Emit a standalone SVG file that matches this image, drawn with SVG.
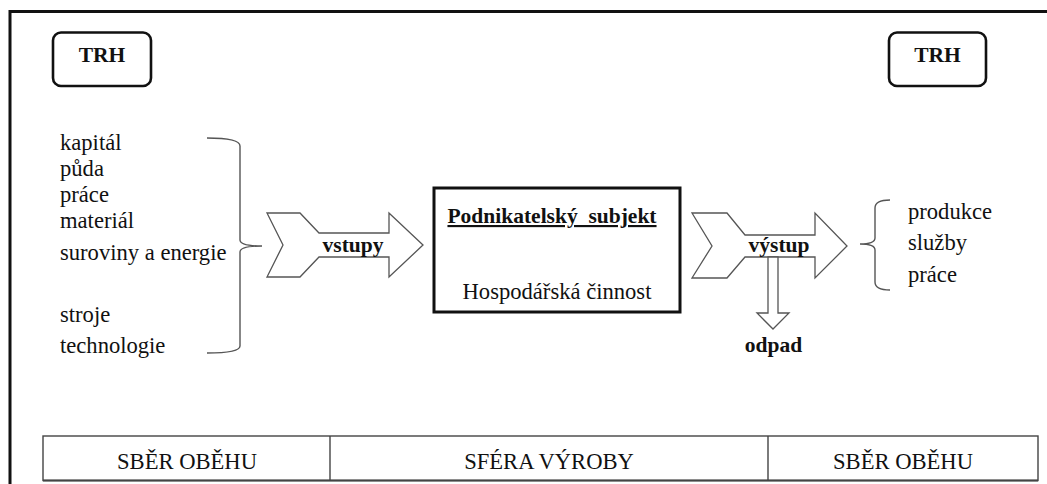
<svg xmlns="http://www.w3.org/2000/svg" width="1047" height="484" viewBox="0 0 1047 484" font-family="'Liberation Serif', Tinos, 'Times New Roman', serif">
<style>
text{font-family:"Liberation Serif",Tinos,"Times New Roman",serif;fill:#111;}
.b{font-weight:bold;font-size:21.5px;}
.r{font-size:22.6px;}
.ctr{text-anchor:middle;}
.trh{fill:#fff;stroke:#111;stroke-width:2.6;}
.arr{fill:#fff;stroke:#555;stroke-width:1.3;stroke-linejoin:miter;}
.br{fill:none;stroke:#555;stroke-width:1.4;}
.cell{fill:#fff;stroke:#444;stroke-width:1.4;}
</style>
<rect width="1047" height="484" fill="#fff"/>
<path d="M10,484 V11.5 H1047" fill="none" stroke="#111" stroke-width="3"/>

<g id="trh-left">
<rect class="trh" x="53" y="32.5" width="98" height="53.5" rx="8"/>
<text class="b ctr" x="102" y="62">TRH</text>
</g>
<g id="trh-right">
<rect class="trh" x="889" y="32.5" width="97" height="53.5" rx="8"/>
<text class="b ctr" x="937.5" y="62">TRH</text>
</g>

<g id="inputs">
<text class="r" x="60" y="150">kapitál</text>
<text class="r" x="60" y="176">půda</text>
<text class="r" x="60" y="202">práce</text>
<text class="r" x="60" y="228">materiál</text>
<text class="r" x="60" y="260">suroviny a energie</text>
<text class="r" x="60" y="322">stroje</text>
<text class="r" x="60" y="353">technologie</text>
</g>

<g id="outputs">
<text class="r" x="908" y="219" font-size="23.5">produkce</text>
<text class="r" x="908" y="250" font-size="23.5">služby</text>
<text class="r" x="908" y="282" font-size="23.5">práce</text>
</g>

<g id="subject">
<rect x="434" y="188" width="246" height="124" fill="#fff" stroke="#111" stroke-width="3"/>
<text class="b ctr" x="552" y="223" font-size="21.8" text-decoration="underline" xml:space="preserve">Podnikatelský  subjekt</text>
<text class="r ctr" x="557" y="299">Hospodářská činnost</text>
</g>

<g id="table">
<rect class="cell" x="43" y="436" width="995" height="44.5"/>
<line x1="43" y1="480.5" x2="1038" y2="480.5" stroke="#444" stroke-width="2"/>
<line x1="330" y1="436" x2="330" y2="480.5" stroke="#444" stroke-width="1.4"/>
<line x1="768" y1="436" x2="768" y2="480.5" stroke="#444" stroke-width="1.4"/>
<text class="r ctr" x="187" y="469">SBĚR OBĚHU</text>
<text class="r ctr" x="549" y="469">SFÉRA VÝROBY</text>
<text class="r ctr" x="903" y="469">SBĚR OBĚHU</text>
</g>

<g id="connectors">
<path class="br" d="M207,138 Q240,138 240,146 V240 Q240,246 262,246 Q240,246 240,252 V346 Q240,353 207,353"/>
<path class="br" d="M890,200 Q875,200 875,208 V238 Q875,244 860,244 Q875,244 875,250 V282 Q875,290 890,290"/>
<g id="vstupy">
<polygon class="arr" points="267,213 300,213 319,233 389,233 389,213 423,245 389,277 389,257 319,257 300,277 267,277 283,245"/>
<text class="b ctr" x="353" y="252">vstupy</text>
</g>
<g id="vystup">
<polygon class="arr" points="692,213 727,213 745,235 815,235 815,213 847,246 815,278 815,257 745,257 727,278 692,278 712,246"/>
<polygon class="arr" points="768,257 778,257 778,313 789,313 773,329 757,313 768,313"/>
<text class="b ctr" x="779" y="252">výstup</text>
</g>
<text class="b ctr" x="773.5" y="352">odpad</text>
</g>
</svg>
